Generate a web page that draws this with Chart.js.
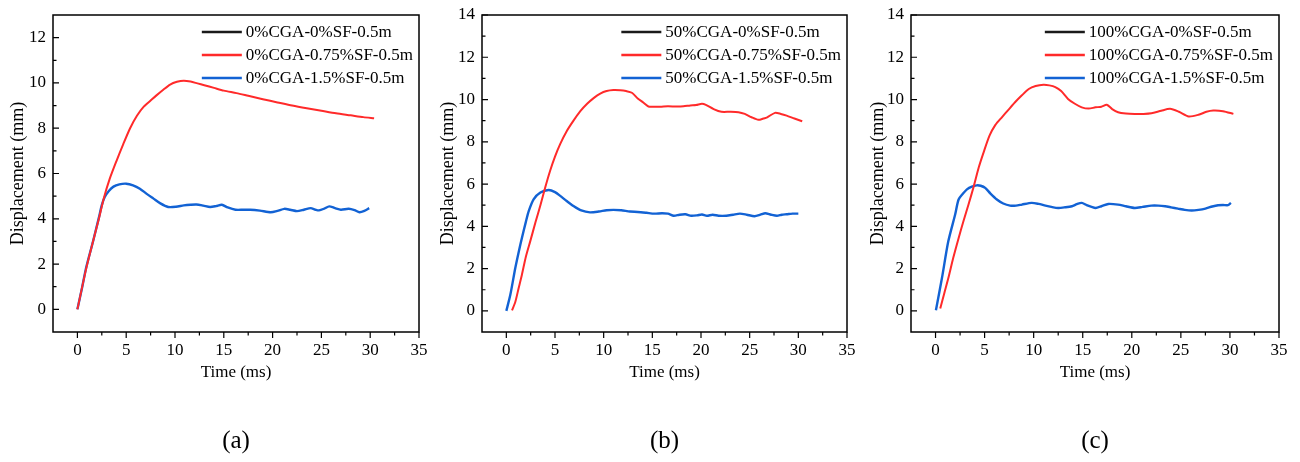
<!DOCTYPE html>
<html>
<head>
<meta charset="utf-8">
<script src="https://cdn.jsdelivr.net/npm/chart.js@4/dist/chart.umd.min.js"></script>
<style>
  html, body { margin: 0; padding: 0; background: #fff; }
  #wrap { position: relative; width: 1300px; height: 462px; }
  #wrap canvas { position: absolute; top: 0; }
</style>
</head>
<body>
<div id="wrap">
  <canvas id="panelA" width="430" height="462" style="left:0px"></canvas>
  <canvas id="panelB" width="430" height="462" style="left:430px"></canvas>
  <canvas id="panelC" width="440" height="462" style="left:860px"></canvas>
</div>
<script>
const serif = '"Liberation Serif", "Times New Roman", serif';

// tick labels
const xTicks = [0, 5, 10, 15, 20, 25, 30, 35];
const yTicksA = [0, 2, 4, 6, 8, 10, 12];
const yTicksBC = [0, 2, 4, 6, 8, 10, 12, 14];

// series names per panel (0%SF, 0.75%SF, 1.5%SF)
const namesA = ['0%CGA-0%SF-0.5m', '0%CGA-0.75%SF-0.5m', '0%CGA-1.5%SF-0.5m'];
const namesB = ['50%CGA-0%SF-0.5m', '50%CGA-0.75%SF-0.5m', '50%CGA-1.5%SF-0.5m'];
const namesC = ['100%CGA-0%SF-0.5m', '100%CGA-0.75%SF-0.5m', '100%CGA-1.5%SF-0.5m'];

// [time (ms), displacement (mm)]
const a0 = [];
const a075 = [[0,0],[0.9,1.8],[1.6,3.0],[2.2,4.0],[2.7,4.9],[3.3,5.75],[4.0,6.55],[4.7,7.3],[5.4,8.0],[6.1,8.55],[6.8,8.95],[7.5,9.22],[8.1,9.45],[8.8,9.7],[9.5,9.93],[10.2,10.05],[10.9,10.1],[11.6,10.06],[12.3,9.98],[13.0,9.9],[14.0,9.78],[15.0,9.66],[16.3,9.55],[17.5,9.43],[19.0,9.28],[20.5,9.14],[22.0,9.0],[23.5,8.88],[25.0,8.77],[26.5,8.66],[28.0,8.57],[29.3,8.49],[30.4,8.44]];
const a15 = [[0,0],[0.5,1.0],[0.9,1.85],[1.6,3.0],[2.2,4.05],[2.5,4.6],[2.8,4.96],[3.2,5.22],[3.7,5.42],[4.3,5.52],[5.0,5.55],[5.7,5.48],[6.4,5.33],[7.1,5.1],[7.8,4.89],[8.5,4.68],[9.3,4.52],[10.1,4.53],[10.9,4.59],[11.6,4.62],[12.2,4.63],[12.9,4.58],[13.6,4.52],[14.2,4.56],[14.8,4.62],[15.4,4.5],[16.2,4.4],[17.0,4.4],[17.7,4.4],[18.7,4.36],[19.8,4.29],[20.5,4.35],[21.2,4.44],[21.8,4.4],[22.5,4.34],[23.2,4.4],[23.9,4.47],[24.4,4.4],[24.75,4.37],[25.3,4.45],[25.8,4.55],[26.4,4.47],[27.0,4.4],[27.8,4.44],[28.4,4.38],[28.9,4.29],[29.4,4.35],[29.9,4.47]];

const b0 = [];
const b075 = [[0.58,0.02],[0.92,0.42],[1.25,1.05],[1.6,1.71],[2.0,2.55],[2.46,3.3],[3.0,4.2],[3.5,5.0],[4.0,5.85],[4.5,6.63],[5.0,7.3],[5.54,7.9],[6.2,8.5],[6.9,9.0],[7.6,9.45],[8.3,9.8],[9.0,10.08],[9.65,10.28],[10.3,10.4],[11.0,10.45],[11.7,10.44],[12.3,10.4],[12.9,10.32],[13.5,10.05],[14.1,9.85],[14.6,9.67],[15.2,9.66],[15.8,9.66],[16.6,9.68],[17.5,9.67],[18.2,9.68],[18.9,9.72],[19.5,9.74],[20.1,9.8],[20.5,9.75],[21.3,9.55],[22.1,9.42],[23.0,9.42],[23.85,9.4],[24.5,9.32],[25.2,9.16],[25.9,9.04],[26.4,9.1],[26.8,9.16],[27.6,9.37],[28.2,9.32],[28.8,9.24],[29.6,9.1],[30.4,8.97]];
const b15 = [[0,0],[0.41,0.76],[0.92,2.03],[1.3,2.85],[1.6,3.45],[2.0,4.2],[2.3,4.72],[2.8,5.28],[3.5,5.6],[4.35,5.72],[5.0,5.62],[5.54,5.44],[6.2,5.2],[6.9,4.96],[7.7,4.75],[8.6,4.66],[9.5,4.7],[10.3,4.76],[11.0,4.78],[11.8,4.76],[12.7,4.7],[13.5,4.68],[14.4,4.64],[15.2,4.6],[16.0,4.62],[16.6,4.6],[17.2,4.5],[17.8,4.55],[18.4,4.57],[19.0,4.5],[19.6,4.52],[20.1,4.56],[20.6,4.5],[21.2,4.55],[21.8,4.5],[22.6,4.5],[23.3,4.55],[24.0,4.6],[24.7,4.55],[25.5,4.48],[26.1,4.55],[26.6,4.62],[27.2,4.55],[27.8,4.5],[28.3,4.55],[28.8,4.57],[29.4,4.6],[30.0,4.6]];

const c0 = [];
const c075 = [[0.48,0.11],[0.9,0.85],[1.3,1.54],[1.8,2.5],[2.35,3.44],[2.85,4.25],[3.36,5.03],[3.9,5.9],[4.4,6.78],[4.9,7.5],[5.5,8.29],[6.1,8.8],[6.76,9.16],[7.4,9.5],[8.1,9.87],[8.8,10.2],[9.5,10.5],[10.2,10.64],[11.0,10.7],[11.6,10.67],[12.2,10.59],[12.8,10.4],[13.5,10.03],[14.2,9.8],[14.9,9.63],[15.6,9.57],[16.3,9.63],[16.9,9.66],[17.45,9.75],[18.0,9.55],[18.6,9.4],[19.4,9.34],[20.3,9.32],[21.2,9.32],[22.0,9.35],[23.0,9.47],[23.9,9.56],[24.8,9.42],[25.8,9.2],[26.8,9.28],[27.6,9.42],[28.3,9.48],[29.3,9.45],[30.35,9.32]];
const c15 = [[0.04,0.03],[0.65,1.54],[1.3,3.29],[2.0,4.56],[2.35,5.27],[2.8,5.55],[3.2,5.75],[3.7,5.88],[4.2,5.94],[4.6,5.92],[5.06,5.82],[5.6,5.55],[6.25,5.27],[6.9,5.08],[7.6,4.98],[8.2,4.98],[8.8,5.03],[9.8,5.11],[10.5,5.06],[11.2,4.98],[11.8,4.92],[12.5,4.87],[13.2,4.9],[13.9,4.95],[14.4,5.05],[14.9,5.11],[15.4,5.0],[15.9,4.92],[16.3,4.87],[16.9,4.95],[17.6,5.06],[18.6,5.03],[19.4,4.95],[20.3,4.87],[21.1,4.92],[22.0,4.98],[22.7,4.98],[23.4,4.95],[24.0,4.9],[24.7,4.84],[25.4,4.78],[26.1,4.75],[26.8,4.78],[27.5,4.84],[28.2,4.94],[28.8,5.0],[29.3,5.01],[29.8,5.0],[30.1,5.11]];

const lineColors = ['#1a1a1a', '#ff2a2a', '#1262d4'];
const lineWidths = [2, 2, 2.4];

// box frame, Origin-style major/minor ticks, legend and the (a)/(b)/(c) tag
const framePlugin = {
    id: 'frame',
    afterDraw(chart, args, opts) {
        const { ctx, chartArea: a, scales: { x, y } } = chart;
        ctx.save();
        ctx.strokeStyle = '#000';
        ctx.lineWidth = 1.5;
        ctx.strokeRect(a.left, a.top, a.right - a.left, a.bottom - a.top);

        ctx.lineWidth = 1.2;
        ctx.beginPath();
        // x ticks point outward (down)
        x.ticks.forEach(t => {
            const px = x.getPixelForValue(t.value);
            ctx.moveTo(px, a.bottom); ctx.lineTo(px, a.bottom + 6);
            const m = t.value - 2.5;
            if (m > x.min) {
                const pm = x.getPixelForValue(m);
                ctx.moveTo(pm, a.bottom); ctx.lineTo(pm, a.bottom + 3.5);
            }
        });
        // y ticks point inward (right)
        y.ticks.forEach(t => {
            const py = y.getPixelForValue(t.value);
            ctx.moveTo(a.left, py); ctx.lineTo(a.left + 6, py);
            [t.value - 1, t.value + 1].forEach(m => {
                if (m > y.min && m < y.max) {
                    const pm = y.getPixelForValue(m);
                    ctx.moveTo(a.left, pm); ctx.lineTo(a.left + 3.5, pm);
                }
            });
        });
        ctx.stroke();

        // legend, upper right inside the box
        ctx.font = '17px ' + serif;
        const sets = chart.data.datasets;
        const maxW = Math.max(...sets.map(d => ctx.measureText(d.label).width));
        const x0 = a.right - 6 - maxW - 44;
        ctx.textBaseline = 'middle';
        ctx.textAlign = 'left';
        sets.forEach((d, i) => {
            const ry = a.top + 17 + i * 23;
            ctx.strokeStyle = d.borderColor;
            ctx.lineWidth = 2.5;
            ctx.beginPath();
            ctx.moveTo(x0, ry); ctx.lineTo(x0 + 40, ry);
            ctx.stroke();
            ctx.fillStyle = '#000';
            ctx.fillText(d.label, x0 + 44, ry + 1);
        });

        // panel tag under the plot
        ctx.font = '25px ' + serif;
        ctx.textAlign = 'center';
        ctx.fillText(opts.tag, (a.left + a.right) / 2, 441);
        ctx.restore();
    }
};

// axis sizes are fixed so the plot box lands in the same place on every panel
function fixX(s) {
    s.height = 68;
    s.paddingLeft = 0;
    s.paddingRight = 0;
}

function makePanel(id, names, series, yMax, yTicks, leftW, rightPad, tag) {
    const ctx = document.getElementById(id).getContext('2d');
    return new Chart(ctx, {
        type: 'line',
        data: {
            datasets: series.map((s, i) => ({
                label: names[i],
                data: s.map(p => ({ x: p[0], y: p[1] })),
                borderColor: lineColors[i],
                borderWidth: lineWidths[i],
                pointRadius: 0,
                tension: 0.25,
                fill: false,
            }))
        },
        options: {
            responsive: false,
            animation: false,
            layout: { padding: { top: 15, right: rightPad, bottom: 62, left: 0 } },
            plugins: {
                legend: { display: false },
                tooltip: { enabled: false },
                frame: { tag },
            },
            scales: {
                x: {
                    type: 'linear',
                    min: -2.5,
                    max: 35,
                    afterBuildTicks: s => { s.ticks = xTicks.map(v => ({ value: v })); },
                    afterFit: fixX,
                    grid: { display: false, drawTicks: false },
                    border: { display: false },
                    ticks: { color: '#000', font: { family: serif, size: 17 }, padding: 8, maxRotation: 0 },
                    title: { display: true, text: 'Time (ms)', color: '#000', font: { family: serif, size: 17 }, padding: { top: 0, bottom: 17 } },
                },
                y: {
                    type: 'linear',
                    min: -1,
                    max: yMax,
                    afterBuildTicks: s => { s.ticks = yTicks.map(v => ({ value: v })); },
                    afterFit: s => { s.width = leftW; s.paddingTop = 0; s.paddingBottom = 0; },
                    grid: { display: false, drawTicks: false },
                    border: { display: false },
                    ticks: { color: '#000', font: { family: serif, size: 17 }, padding: 7 },
                    title: { display: true, text: 'Displacement (mm)', color: '#000', font: { family: serif, size: 18 }, padding: { top: 7, bottom: 0 } },
                },
            },
        },
        plugins: [framePlugin],
    });
}

makePanel('panelA', namesA, [a0, a075, a15], 13, yTicksA, 53, 11, '(a)');
makePanel('panelB', namesB, [b0, b075, b15], 14, yTicksBC, 52, 13, '(b)');
makePanel('panelC', namesC, [c0, c075, c15], 14, yTicksBC, 51, 21, '(c)');
</script>
</body>
</html>
